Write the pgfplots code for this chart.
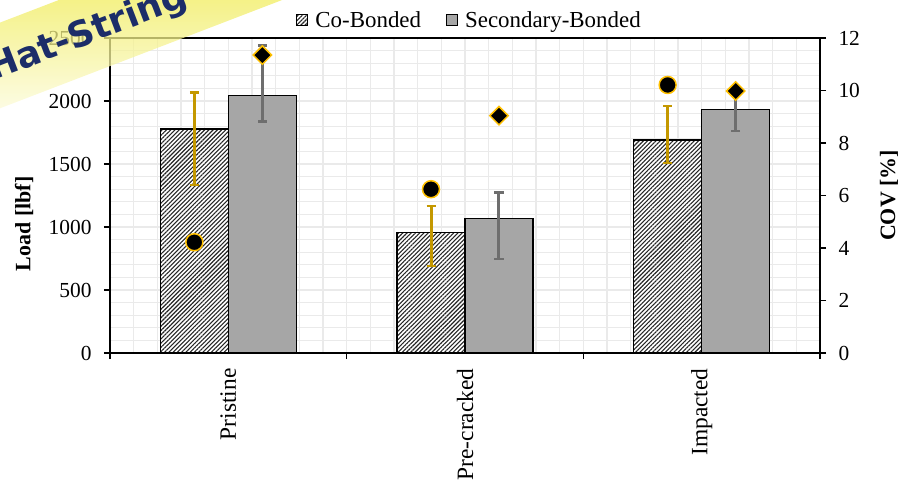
\documentclass[border=0pt]{standalone}
\usepackage{pgfplots}
\pgfplotsset{compat=1.18}
\usepackage{fontspec}
\setmainfont{Liberation Serif}
\newfontfamily\bannerfont{DejaVu Sans}
\usetikzlibrary{patterns.meta}
\definecolor{gridgray}{RGB}{234,234,234}
\definecolor{barsec}{RGB}{166,166,166}
\definecolor{errgold}{RGB}{196,152,0}
\definecolor{errgray}{RGB}{110,110,110}
\definecolor{mkgold}{RGB}{255,192,0}
\definecolor{navy}{RGB}{28,45,105}
\definecolor{ribbon}{RGB}{240,236,90}
\begin{document}
\begin{tikzpicture}
\useasboundingbox (-110bp,-130bp) rectangle (799bp,353bp);
\pgfplotsset{
  common/.style={
    scale only axis, width=710bp, height=315bp,
    xmin=-0.5, xmax=2.5,
    at={(0bp,0bp)}, anchor=south west,
    clip=false,
    tick align=outside,
    major tick length=6bp,
    minor tick length=0bp,
    tick style={black, line width=1.2bp},
    axis line style={black, line width=1.5bp},
    /pgf/number format/assume math mode=true,
    /pgf/number format/1000 sep={},
    tick label style={font=\fontsize{21.5}{24}\selectfont},
  }
}
\begin{axis}[common,
  ymin=0, ymax=2500,
  ytick={0,500,...,2500},
  minor ytick={100,200,...,2400},
  ymajorgrids, yminorgrids,
  minor xtick={-0.4,-0.3,...,2.45},
  xminorgrids,
  major grid style={gridgray, line width=1.3bp},
  minor grid style={gridgray, line width=1.3bp},
  xtick={-0.5,0.5,1.5,2.5},
  xticklabels={},
  extra x ticks={0,1,2},
  extra x tick labels={Pristine,Pre-cracked,Impacted},
  extra x tick style={major tick length=0bp, grid=none,
    tick label style={font=\fontsize{23.5}{26}\selectfont, yshift=-12bp, rotate=90, anchor=east}},
  xtick pos=bottom,
  ytick pos=left,
  yticklabel style={xshift=-9bp},
  ylabel={\textbf{Load [lbf]}},
  ylabel style={font=\fontsize{22}{24}\selectfont, at={(axis description cs:-0.1211,0.41)}, anchor=center, rotate=0},
  legend style={at={(0.51,1)}, anchor=center, yshift=18bp, draw=none, fill=none,
    legend columns=2, font=\fontsize{23}{25}\selectfont,
    nodes={inner xsep=7bp},
    /tikz/every even column/.append style={column sep=18bp}},
  legend image code/.code={\draw[#1, line width=1bp] (0bp,-5.5bp) rectangle (11bp,5.5bp);},
]
\addplot[ybar, bar width=0.2873, bar shift=0pt, draw=black, line width=1.5bp, fill=white,
  postaction={pattern color=black!85, pattern={Lines[angle=45,distance=3bp,line width=1.1bp]}},
  error bars/.cd, y dir=both, y explicit,
  error bar style={errgold, line width=3bp},
  error mark options={errgold, rotate=90, mark size=4.5bp, line width=2.5bp}]
coordinates {
  (-0.14365,1778) += (0,288) -= (0,445)
  (0.85635,958) += (0,209) -= (0,268)
  (1.85635,1690) += (0,270) -= (0,184)
};
\addlegendentry{Co-Bonded}
\addplot[ybar, bar width=0.2873, bar shift=0pt, draw=black, line width=1.5bp, fill=barsec,
  error bars/.cd, y dir=both, y explicit,
  error bar style={errgray, line width=3bp},
  error mark options={errgray, rotate=90, mark size=4.5bp, line width=2.5bp}]
coordinates {
  (0.14365,2042) += (0,397) -= (0,206)
  (1.14365,1069) += (0,203) -= (0,323)
  (2.14365,1934) += (0,146) -= (0,172)
};
\addlegendentry{Secondary-Bonded}
\end{axis}
\begin{axis}[common,
  ymin=0, ymax=12,
  ytick={0,2,...,12},
  axis y line*=right,
  axis x line=none,
  yticklabel style={xshift=9bp},
  ylabel={\textbf{COV [\%]}},
  ylabel style={font=\fontsize{22}{24}\selectfont, at={(axis description cs:1.0972,0.5)}, anchor=center, rotate=0},
]
\addplot[only marks, mark=*, mark size=8.5bp, mark options={fill=black, draw=mkgold, line width=1.5bp}]
coordinates {(-0.14365,4.22) (0.85635,6.24) (1.85635,10.21)};
\addplot[only marks, mark=square*, mark size=6.5bp, mark options={rotate=45, fill=black, draw=mkgold, line width=1.5bp}]
coordinates {(0.14365,11.35) (1.14365,9.04) (2.14365,9.98)};
\end{axis}
\begin{scope}[shift={(-117bp,272bp)}, rotate=21, transform shape]
  \shade[top color=white, bottom color=white, middle color=ribbon, opacity=0.75] (-100bp,-28bp) rectangle (520bp,52bp);
  \node[font=\bannerfont\bfseries\fontsize{36}{40}\selectfont, text=navy, anchor=base west, inner sep=0pt] at (0bp,0bp) {Hat-String};
\end{scope}
\end{tikzpicture}
\end{document}
